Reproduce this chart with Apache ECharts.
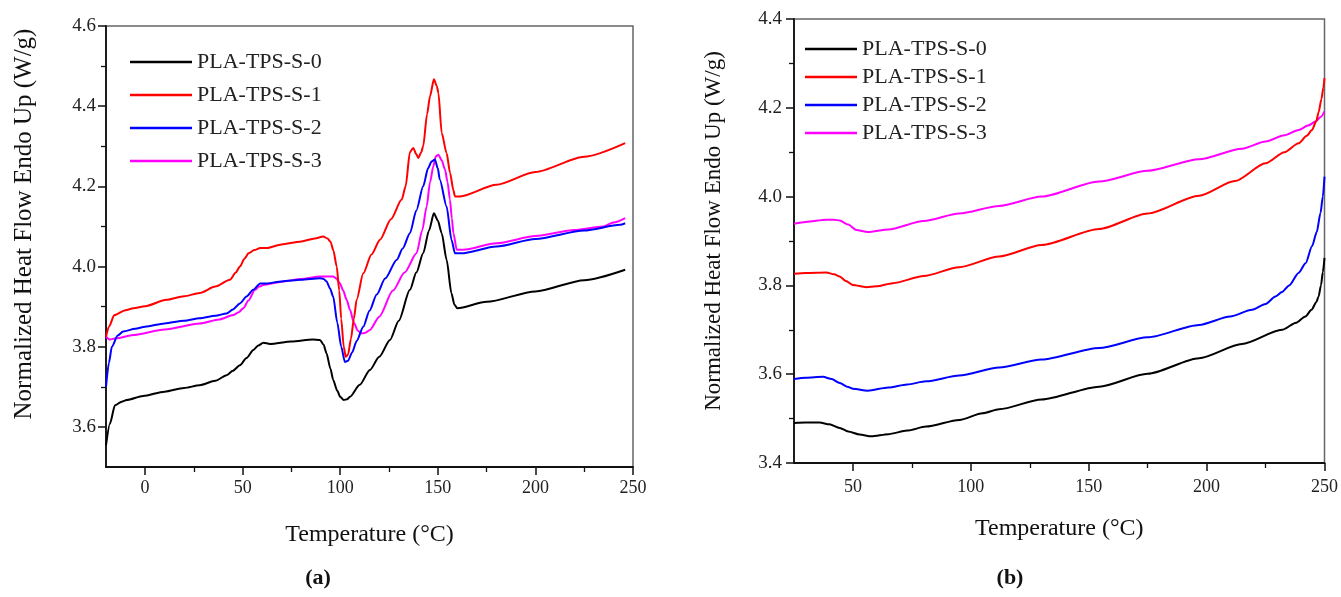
<!DOCTYPE html>
<html>
<head>
<meta charset="utf-8">
<script src="https://cdn.jsdelivr.net/npm/echarts@6/dist/echarts.min.js"></script>
<style>
  html, body { margin: 0; padding: 0; background: #fff; }
  #main { width: 1341px; height: 597px; }
</style>
</head>
<body>
<div id="main"></div>
<script>
// 图例名称
var names = ['PLA-TPS-S-0', 'PLA-TPS-S-1', 'PLA-TPS-S-2', 'PLA-TPS-S-3'];
var colors = ['#000000', '#ff0000', '#0000ff', '#ff00ff'];

// (a) 刻度
var aXTicks = [0, 50, 100, 150, 200, 250];
var aXMinor = [25, 75, 125, 175, 225];
var aYTicks = [3.6, 3.8, 4.0, 4.2, 4.4, 4.6];
var aYMinor = [3.7, 3.9, 4.1, 4.3, 4.5];

// (b) 刻度
var bXTicks = [50, 100, 150, 200, 250];
var bXMinor = [75, 125, 175, 225];
var bYTicks = [3.4, 3.6, 3.8, 4.0, 4.2, 4.4];
var bYMinor = [3.5, 3.7, 3.9, 4.1, 4.3];

// (a) 数据 [温度, 热流]
var a0 = [[-20,3.554],[-18,3.608],[-15.4,3.654],[-12,3.663],[-9.4,3.667],[-1,3.677],[10,3.688],[20,3.697],[28,3.704],[36,3.715],[41.8,3.729],[45,3.74],[48.6,3.754],[52,3.772],[55.5,3.792],[58,3.803],[60.6,3.81],[64,3.807],[75,3.813],[86,3.818],[89.6,3.817],[91.5,3.805],[93,3.783],[95,3.745],[96.4,3.717],[98.5,3.69],[100,3.675],[101.8,3.667],[103.5,3.669],[105,3.675],[110,3.705],[115.2,3.742],[120,3.775],[125.5,3.817],[130,3.865],[135.7,3.942],[139,3.985],[142.5,4.033],[145.5,4.09],[148,4.133],[150,4.115],[152,4.083],[154.5,4.017],[157,3.933],[158.5,3.905],[160,3.896],[175,3.912],[200,3.938],[225,3.966],[246,3.992]];
var a1 = [[-20,3.825],[-18.5,3.85],[-15.7,3.879],[-10,3.891],[-6,3.896],[0,3.901],[11,3.917],[20,3.926],[28,3.934],[36,3.95],[43.5,3.967],[46.5,3.985],[48.6,4.0],[51,4.02],[53,4.033],[56,4.041],[59,4.046],[62.3,4.046],[70,4.055],[79.4,4.062],[87,4.07],[91.3,4.075],[93.5,4.07],[95,4.062],[96.5,4.04],[98.2,4.0],[99.5,3.94],[100.5,3.87],[101.8,3.8],[102.8,3.775],[104,3.78],[105.5,3.82],[107,3.87],[108.4,3.917],[111.8,3.983],[116,4.03],[120.4,4.067],[126,4.118],[131.5,4.167],[133.5,4.2],[135.7,4.285],[137.4,4.296],[139,4.28],[140,4.271],[141.5,4.285],[142.5,4.3],[144.5,4.38],[146,4.425],[148,4.467],[149.5,4.45],[150.3,4.433],[152,4.333],[154.5,4.283],[156.3,4.233],[158,4.19],[158.8,4.175],[161.4,4.175],[180,4.204],[200,4.236],[225,4.274],[246,4.308]];
var a2 = [[-20,3.7],[-18.5,3.76],[-17,3.8],[-14,3.828],[-11.2,3.838],[-5,3.845],[0,3.85],[10,3.858],[20,3.865],[28,3.871],[36,3.877],[41.8,3.883],[45,3.893],[48.6,3.908],[52,3.925],[55.4,3.942],[59,3.958],[62.3,3.958],[70,3.963],[80,3.967],[89.6,3.971],[91.5,3.969],[93,3.963],[94.8,3.945],[96.4,3.925],[98.5,3.86],[100.5,3.8],[102.4,3.762],[104,3.765],[106,3.785],[108.5,3.815],[111.8,3.85],[115,3.89],[118.7,3.93],[123,3.97],[129,4.017],[132,4.045],[135.7,4.083],[139,4.14],[142.5,4.2],[145,4.245],[146.8,4.262],[148.5,4.267],[150,4.245],[151,4.217],[154.5,4.15],[157,4.067],[158.8,4.033],[162,4.033],[180,4.05],[200,4.069],[225,4.09],[243.4,4.104],[246,4.108]];
var a3 = [[-20,3.825],[-18,3.818],[-15,3.821],[-6,3.829],[10,3.843],[28,3.858],[38,3.868],[45.2,3.879],[48,3.886],[50.3,3.896],[53,3.915],[56.3,3.942],[58.5,3.95],[60.6,3.954],[70,3.962],[80,3.969],[89.6,3.975],[96.4,3.975],[98,3.97],[99.9,3.958],[101.5,3.94],[103.3,3.917],[105,3.892],[107,3.86],[109,3.84],[111,3.833],[113,3.835],[115.2,3.842],[120,3.875],[127,3.94],[133,3.985],[139.1,4.033],[142,4.09],[144.3,4.15],[146,4.21],[147.7,4.25],[149,4.275],[150.3,4.279],[152,4.265],[153.7,4.242],[155,4.21],[156.2,4.167],[157.2,4.12],[158,4.083],[159.7,4.042],[163,4.042],[180,4.058],[200,4.076],[220,4.091],[234.8,4.1],[240,4.11],[246,4.121]];

// (b) 数据
var b0 = [[25,3.49],[30,3.491],[35.9,3.491],[40,3.487],[44.4,3.479],[48,3.471],[52.8,3.464],[57.8,3.46],[65,3.465],[73,3.473],[81,3.482],[95.1,3.497],[105,3.512],[112,3.521],[130,3.543],[154.4,3.572],[175,3.601],[196.8,3.636],[215,3.668],[232,3.7],[238,3.716],[241.9,3.73],[244.5,3.745],[246.5,3.762],[247.5,3.775],[248.5,3.8],[249.3,3.83],[250,3.862]];
var b1 = [[25,3.826],[30,3.828],[38.7,3.829],[42,3.825],[44.4,3.82],[47,3.81],[50,3.801],[55.6,3.796],[60,3.798],[66.9,3.805],[80,3.821],[95,3.841],[112,3.865],[130,3.891],[154.4,3.927],[175,3.962],[196.8,4.002],[212,4.035],[225,4.075],[233,4.1],[239,4.12],[242.5,4.137],[244.7,4.15],[246.5,4.17],[247.5,4.19],[248.7,4.22],[249.5,4.245],[250,4.267]];
var b2 = [[25,3.589],[30,3.592],[37.3,3.594],[41,3.589],[44.4,3.58],[48,3.571],[50,3.567],[56.3,3.563],[65,3.57],[73,3.577],[81,3.584],[95.1,3.597],[112,3.615],[130,3.633],[154.4,3.659],[175,3.683],[196.8,3.711],[210,3.73],[219.3,3.745],[225,3.758],[229.2,3.775],[232,3.785],[235,3.8],[239,3.828],[242,3.85],[244.7,3.888],[246.7,3.92],[248.3,3.963],[249.3,4.0],[250,4.045]];
var b3 = [[25,3.939],[30,3.943],[38.7,3.948],[42,3.948],[44.4,3.946],[48,3.937],[51.4,3.925],[56.3,3.92],[65,3.926],[80,3.945],[95,3.962],[112,3.979],[130,4.0],[154.4,4.034],[175,4.058],[196.8,4.084],[215,4.108],[225,4.124],[233,4.138],[239,4.15],[243,4.16],[246.2,4.169],[248.5,4.18],[250,4.192]];

var FONT = '"Liberation Serif", "DejaVu Serif", serif';

// 主坐标轴
var mainX = function(grid, min, max, ticks, gap, margin){
	return {
		type: 'value', gridIndex: grid, min: min, max: max, position: 'bottom',
		name: 'Temperature (°C)', nameLocation: 'middle', nameGap: gap,
		nameTextStyle: {fontFamily: FONT, fontSize: 24, color: '#111'},
		axisLine: {show: true, onZero: false, lineStyle: {color: '#111', width: 1.8}},
		axisTick: {show: true, length: 8, customValues: ticks, lineStyle: {color: '#111', width: 1.5}},
		axisLabel: {customValues: ticks, margin: margin, fontFamily: FONT, fontSize: 18, color: '#222'},
		splitLine: {show: false}
	};
};
var mainY = function(grid, min, max, ticks, margin){
	return {
		type: 'value', gridIndex: grid, min: min, max: max, position: 'left',
		axisLine: {show: true, onZero: false, lineStyle: {color: '#111', width: 1.8}},
		axisTick: {show: true, length: 8, customValues: ticks, lineStyle: {color: '#111', width: 1.5}},
		axisLabel: {customValues: ticks, margin: margin, fontFamily: FONT, fontSize: 19, color: '#222',
			formatter: function(v){ return v.toFixed(1); }},
		splitLine: {show: false}
	};
};
// 次刻度（叠加在主轴上）
var minorAxis = function(grid, min, max, ticks, pos){
	return {
		type: 'value', gridIndex: grid, min: min, max: max, position: pos,
		axisLine: {show: false, onZero: false},
		axisTick: {show: true, length: 5, customValues: ticks, lineStyle: {color: '#111', width: 1.3}},
		axisLabel: {show: false},
		splitLine: {show: false}
	};
};

var makeSeries = function(list, xi, yi){
	return list.map(function(d, i){
		return {
			name: names[i], type: 'line', data: d,
			xAxisIndex: xi, yAxisIndex: yi,
			showSymbol: false, symbol: 'none',
			smooth: 0.25, smoothMonotone: 'x',
			lineStyle: {color: colors[i], width: 2},
			itemStyle: {color: colors[i]},
			emphasis: {disabled: true},
			z: 10 - i
		};
	});
};

var legendCfg = function(left, top, gap, w){
	return {
		data: names, orient: 'vertical', left: left, top: top,
		icon: 'rect', itemWidth: w, itemHeight: 2.5, itemGap: gap,
		textStyle: {fontFamily: FONT, fontSize: 22, color: '#222', lineHeight: 24},
		selectedMode: false
	};
};

var initChart = function(){
	var myChart = echarts.init(document.getElementById('main'));
	var option = {
		animation: false,
		backgroundColor: '#fff',
		color: colors,
		grid: [
			{left: 106, top: 26, right: 708, bottom: 130, show: true, borderColor: '#666', borderWidth: 1.5},
			{left: 794, top: 19, right: 15, bottom: 134, show: true, borderColor: '#666', borderWidth: 1.5}
		],
		legend: [legendCfg(125, 45, 9, 62), legendCfg(800, 32, 4, 52)],
		xAxis: [
			mainX(0, -20, 250, aXTicks, 56, 12),
			minorAxis(0, -20, 250, aXMinor, 'bottom'),
			mainX(1, 25, 250, bXTicks, 54, 15),
			minorAxis(1, 25, 250, bXMinor, 'bottom')
		],
		yAxis: [
			mainY(0, 3.5, 4.6, aYTicks, 10),
			minorAxis(0, 3.5, 4.6, aYMinor, 'left'),
			mainY(1, 3.4, 4.4, bYTicks, 12),
			minorAxis(1, 3.4, 4.4, bYMinor, 'left')
		],
		graphic: [
			{type: 'text', x: 24, y: 224, rotation: Math.PI / 2,
				style: {text: 'Normalized Heat Flow Endo Up (W/g)', font: '25px ' + FONT, fill: '#111', align: 'center', verticalAlign: 'middle'}},
			{type: 'text', x: 714, y: 231, rotation: Math.PI / 2,
				style: {text: 'Normalized Heat Flow Endo Up (W/g)', font: '23px ' + FONT, fill: '#111', align: 'center', verticalAlign: 'middle'}},
			{type: 'text', x: 318, y: 578,
				style: {text: '(a)', font: 'bold 22px ' + FONT, fill: '#111', align: 'center', verticalAlign: 'middle'}},
			{type: 'text', x: 1010, y: 578,
				style: {text: '(b)', font: 'bold 22px ' + FONT, fill: '#111', align: 'center', verticalAlign: 'middle'}}
		],
		series: makeSeries([a0, a1, a2, a3], 0, 0).concat(makeSeries([b0, b1, b2, b3], 2, 2))
	};
	myChart.setOption(option);
};

initChart();
</script>
</body>
</html>
